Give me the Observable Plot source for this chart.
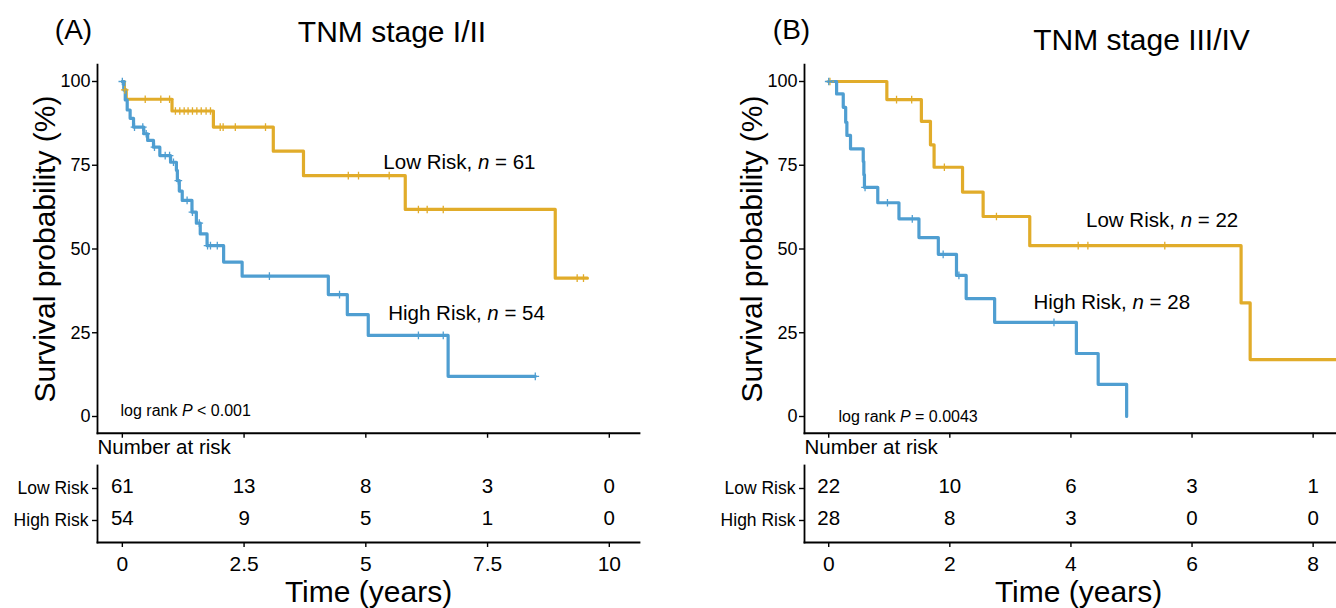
<!DOCTYPE html>
<html>
<head>
<meta charset="utf-8">
<script src="https://cdn.jsdelivr.net/npm/d3@7"></script>
<script src="https://cdn.jsdelivr.net/npm/@observablehq/plot@0.6"></script>
<style>
  html, body { margin: 0; padding: 0; background: white; }
  #root { position: relative; width: 1336px; height: 608px; overflow: hidden; background: white; }
  .cell { position: absolute; }
  .cell svg { overflow: visible; }
</style>
</head>
<body>
<div id="root"></div>
<script>
// ---------------- data ----------------
// Panel A: TNM stage I/II
const lowATime = [0, 0.04, 0.08, 1.02, 1.87, 3.10, 3.72, 5.81, 8.89, 9.55];
const lowASurv = [100, 97.5, 94.7, 91.2, 86.4, 79.2, 71.9, 61.8, 41.3, 41.3];
const lowACensTime = [0.05, 0.47, 0.79, 0.97, 1.09, 1.18, 1.27, 1.35, 1.44, 1.53, 1.62, 1.72, 1.81, 2.01, 2.07, 2.32, 2.94, 4.64, 4.85, 5.48, 6.08, 6.26, 6.59, 9.34, 9.47];
const lowACensSurv = [97.5, 94.7, 94.7, 94.7, 91.2, 91.2, 91.2, 91.2, 91.2, 91.2, 91.2, 91.2, 91.2, 86.4, 86.4, 86.4, 86.4, 71.9, 71.9, 71.9, 61.8, 61.8, 61.8, 41.3, 41.3];

const highATime = [0, 0.03, 0.06, 0.10, 0.16, 0.23, 0.44, 0.52, 0.64, 0.77, 0.99, 1.11, 1.13, 1.17, 1.23, 1.43, 1.52, 1.60, 1.74, 2.08, 2.46, 4.23, 4.62, 5.05, 6.69, 8.48];
const highASurv = [100, 97.5, 94.5, 91.5, 89.0, 86.4, 84.4, 82.4, 80.4, 77.9, 75.9, 73.5, 70.4, 67.3, 64.5, 61.0, 57.7, 54.5, 51.0, 46.1, 41.9, 36.4, 30.4, 24.2, 12.0, 12.0];
const highACensTime = [0, 0.25, 0.42, 0.49, 0.66, 0.88, 0.97, 1.05, 1.15, 1.33, 1.44, 1.58, 1.75, 1.81, 1.95, 3.02, 4.46, 6.08, 6.59, 8.48];
const highACensSurv = [100, 86.4, 86.4, 84.4, 80.4, 77.9, 77.9, 75.9, 70.4, 64.5, 61.0, 57.7, 51.0, 51.0, 51.0, 41.9, 36.4, 24.2, 24.2, 12.0];

const riskTimesA = [0, 2.5, 5, 7.5, 10];
const riskLowA = [61, 13, 8, 3, 0];
const riskHighA = [54, 9, 5, 1, 0];

// Panel B: TNM stage III/IV
const lowBTime = [0, 0.96, 1.53, 1.68, 1.74, 2.21, 2.55, 3.32, 6.81, 6.96, 8.65];
const lowBSurv = [100, 94.6, 88.1, 81.1, 74.4, 67.0, 59.7, 51.0, 33.9, 17.0, 17.0];
const lowBCensTime = [0.02, 1.12, 1.37, 1.91, 2.77, 4.12, 4.28, 5.55];
const lowBCensSurv = [100, 94.6, 94.6, 74.4, 59.7, 51.0, 51.0, 51.0];

const highBTime = [0, 0.13, 0.24, 0.28, 0.30, 0.36, 0.57, 0.58, 0.59, 0.81, 1.16, 1.49, 1.81, 2.11, 2.27, 2.74, 4.09, 4.45, 4.92];
const highBSurv = [100, 96.3, 92.3, 87.8, 83.9, 79.9, 76.1, 72.2, 68.4, 63.8, 59.0, 53.4, 48.4, 42.1, 35.2, 28.1, 18.8, 9.6, 0];
const highBCensTime = [0, 0.60, 0.97, 1.38, 1.89, 2.15, 3.72];
const highBCensSurv = [100, 68.4, 63.8, 59.0, 48.4, 42.1, 28.1];

const riskTimesB = [0, 2, 4, 6, 8];
const riskLowB = [22, 10, 6, 3, 1];
const riskHighB = [28, 8, 3, 0, 0];

const groups = ["Low Risk", "High Risk"];
const yTicks = [0, 25, 50, 75, 100];

// ---------------- styling ----------------
const FONT = "'Liberation Sans', Arial, Helvetica, sans-serif";
const LOW = "#E1AC2A";
const HIGH = "#4F9ED1";
const AXIS_W = 1.8;

const rows = (t, s) => t.map((v, i) => ({t: v, s: s[i]}));

function italicize(svg) {
  d3.select(svg).selectAll("text").each(function () {
    const s = this.textContent;
    const m = s.match(/^(.*\s)([nP])(\s[=<].*)$/);
    if (!m) return;
    const el = d3.select(this);
    el.text(null).attr("xml:space", "preserve");
    el.append("tspan").text(m[1]);
    el.append("tspan").attr("font-style", "italic").text(m[2]);
    el.append("tspan").text(m[3]);
  });
}

function curvePlot(o) {
  const svg = Plot.plot({
    width: o.width, height: 440,
    marginLeft: o.marginLeft, marginRight: o.marginRight, marginTop: 64.25, marginBottom: 7.25,
    style: {fontFamily: FONT, background: "transparent", color: "black"},
    x: {domain: o.xDomain},
    y: {domain: [-5, 105]},
    marks: [
      Plot.frame({anchor: "left", strokeWidth: AXIS_W}),
      Plot.frame({anchor: "bottom", strokeWidth: AXIS_W}),
      Plot.axisY({ticks: yTicks, tickSize: 5, tickPadding: 2, fontSize: 18, label: null, strokeWidth: 1.4}),
      Plot.axisX({ticks: o.xTicks, tickSize: 5, tickFormat: () => "", label: null, strokeWidth: 1.4}),
      Plot.line(rows(o.lowT, o.lowS), {x: "t", y: "s", curve: "step-after", stroke: LOW, strokeWidth: 3.2}),
      Plot.line(rows(o.highT, o.highS), {x: "t", y: "s", curve: "step-after", stroke: HIGH, strokeWidth: 3.2}),
      Plot.dot(rows(o.lowCT, o.lowCS), {x: "t", y: "s", symbol: "plus", r: 2.6, stroke: LOW, strokeWidth: 1.3}),
      Plot.dot(rows(o.highCT, o.highCS), {x: "t", y: "s", symbol: "plus", r: 2.6, stroke: HIGH, strokeWidth: 1.3}),
      Plot.text(o.labels, {x: "t", y: "s", text: "label", textAnchor: "start", fontSize: 20.5}),
      Plot.text([o.pText], {text: d => d, frameAnchor: "bottom-left", textAnchor: "start", lineAnchor: "middle", dx: o.pDx, dy: o.pDy, fontSize: 16}),
      Plot.text([o.title], {text: d => d, frameAnchor: "top", textAnchor: "middle", lineAnchor: "middle", dx: o.titleDx, dy: o.titleDy, fontSize: 30}),
      Plot.text([o.tag], {text: d => d, frameAnchor: "top-left", textAnchor: "middle", lineAnchor: "middle", dx: o.tagDx, dy: o.tagDy, fontSize: 28}),
      Plot.text(["Survival probability (%)"], {text: d => d, frameAnchor: "left", rotate: -90, textAnchor: "middle", lineAnchor: "middle", dx: -52, fontSize: 30})
    ]
  });
  italicize(svg);
  return svg;
}

function riskPlot(o) {
  const data = [];
  o.times.forEach((t, i) => {
    data.push({t, group: groups[0], n: o.low[i]});
    data.push({t, group: groups[1], n: o.high[i]});
  });
  return Plot.plot({
    width: o.width, height: 168,
    marginLeft: o.marginLeft, marginRight: o.marginRight, marginTop: 25, marginBottom: 66,
    style: {fontFamily: FONT, background: "transparent", color: "black"},
    x: {domain: o.xDomain},
    y: {type: "point", domain: groups, padding: 0.667},
    marks: [
      Plot.frame({anchor: "left", strokeWidth: AXIS_W}),
      Plot.frame({anchor: "bottom", strokeWidth: AXIS_W}),
      Plot.axisY({tickSize: 5, tickPadding: 4, fontSize: 17.5, label: null, strokeWidth: 1.4}),
      Plot.axisX({ticks: o.times, tickFormat: d => String(d), tickSize: 5, tickPadding: 8.5, fontSize: 21, label: null, strokeWidth: 1.4}),
      Plot.text(data, {x: "t", y: "group", text: "n", fontSize: 20.5, dy: -2}),
      Plot.text(["Number at risk"], {text: d => d, frameAnchor: "top-left", textAnchor: "start", lineAnchor: "middle", dy: -18, fontSize: 20.5}),
      Plot.text(["Time (years)"], {text: d => d, frameAnchor: "bottom", textAnchor: "middle", lineAnchor: "middle", dy: 50, fontSize: 30})
    ]
  });
}

function place(svg, left, top, width) {
  const d = document.createElement("div");
  d.className = "cell";
  d.style.left = left + "px";
  d.style.top = top + "px";
  d.style.width = width + "px";
  d.appendChild(svg);
  document.getElementById("root").appendChild(d);
}

const domainA = [-0.51, 10.62];
const domainB = [-0.40, 8.65];

place(curvePlot({
  width: 660, marginLeft: 97, marginRight: 21, xDomain: domainA, xTicks: riskTimesA,
  lowT: lowATime, lowS: lowASurv, highT: highATime, highS: highASurv,
  lowCT: lowACensTime, lowCS: lowACensSurv, highCT: highACensTime, highCS: highACensSurv,
  labels: [{t: 5.36, s: 75.8, label: "Low Risk, n = 61"}, {t: 5.46, s: 30.7, label: "High Risk, n = 54"}],
  pText: "log rank P < 0.001", pDx: 23, pDy: -22.75,
  title: "TNM stage I/II", titleDx: 23.5, titleDy: -32.75,
  tag: "(A)", tagDx: -24, tagDy: -34.75
}), 0, 0, 660);

place(riskPlot({
  width: 660, marginLeft: 97, marginRight: 21, xDomain: domainA,
  times: riskTimesA, low: riskLowA, high: riskHighA
}), 0, 440, 660);

place(curvePlot({
  width: 680, marginLeft: 124, marginRight: 8, xDomain: domainB, xTicks: riskTimesB,
  lowT: lowBTime, lowS: lowBSurv, highT: highBTime, highS: highBSurv,
  lowCT: lowBCensTime, lowCS: lowBCensSurv, highCT: highBCensTime, highCS: highBCensSurv,
  labels: [{t: 4.25, s: 58.5, label: "Low Risk, n = 22"}, {t: 3.38, s: 34.1, label: "High Risk, n = 28"}],
  pText: "log rank P = 0.0043", pDx: 34, pDy: -16.25,
  title: "TNM stage III/IV", titleDx: 63, titleDy: -24.75,
  tag: "(B)", tagDx: -13, tagDy: -35
}), 680, 0, 680);

place(riskPlot({
  width: 680, marginLeft: 124, marginRight: 8, xDomain: domainB,
  times: riskTimesB, low: riskLowB, high: riskHighB
}), 680, 440, 680);
</script>
</body>
</html>
